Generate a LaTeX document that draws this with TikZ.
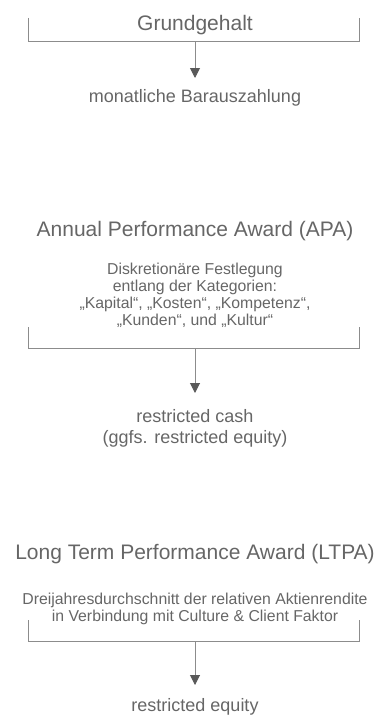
\documentclass[tikz,border=0pt]{standalone}
\usepackage{fontspec}
\setmainfont{Liberation Sans}
\usetikzlibrary{arrows.meta}
\definecolor{txtgrey}{HTML}{666666}
\definecolor{linegrey}{HTML}{8C8C8C}
\definecolor{tipgrey}{HTML}{595959}
\tikzset{
  heading/.style={text=txtgrey, font=\fontsize{21}{25}\selectfont, inner sep=0pt},
  descr/.style={text=txtgrey, font=\fontsize{15.8}{17}\selectfont, align=center, inner sep=0pt},
  payout/.style={text=txtgrey, font=\fontsize{18}{21}\selectfont, align=center, inner sep=0pt},
  bracket/.style={color=linegrey, line width=1pt},
  flow/.style={color=linegrey, line width=1pt, -{Triangle[width=10pt,length=10pt,color=tipgrey]}},
}
\begin{document}
\begin{tikzpicture}[x=1pt, y=-1pt]
        \useasboundingbox (0,0) rectangle (384,717);
        % Grundgehalt
        \node[heading] (gg) at (195,25) {Grundgehalt};
        \draw[bracket] (28.5,18) |- (359,42) -- (359,18);
        \coordinate (ggmid) at (195,42);
        \coordinate (ggtip) at (195,78);
        \draw[flow] (ggmid) -- (ggtip);
        \node[payout] (ggpay) at (195,98) {monatliche Barauszahlung};
        % APA
        \node[heading] (apa) at (195,231) {Annual Performance Award (APA)};
        \node[descr] (apadesc) at (195,295) {Diskretionäre Festlegung\\entlang der Kategorien:\\„Kapital“, „Kosten“, „Kompetenz“,\\„Kunden“, und „Kultur“};
        \draw[bracket] (28.5,327) |- (359,348) -- (359,327);
        \coordinate (apamid) at (195,348);
        \coordinate (apatip) at (195,393);
        \draw[flow] (apamid) -- (apatip);
        \node[payout] (apapay) at (195,428) {restricted cash\\(ggfs. restricted equity)};
        % LTPA
        \node[heading] (ltpa) at (195,554) {Long Term Performance Award (LTPA)};
        \node[descr] (ltpadesc) at (195,609) {Dreijahresdurchschnitt der relativen Aktienrendite\\in Verbindung mit Culture \& Client Faktor};
        \draw[bracket] (28.5,620) |- (359,641) -- (359,620);
        \coordinate (ltpamid) at (195,641);
        \coordinate (ltpatip) at (195,685);
        \draw[flow] (ltpamid) -- (ltpatip);
        \node[payout] (ltpapay) at (195,707) {restricted equity};
\end{tikzpicture}
\end{document}
